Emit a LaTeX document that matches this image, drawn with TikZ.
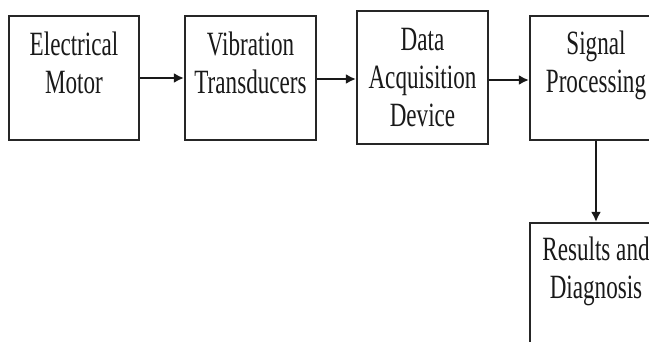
\documentclass[tikz,border=0pt]{standalone}
\usepackage{fontspec}
\setmainfont{Liberation Serif}[FakeStretch=0.68]
\usetikzlibrary{arrows.meta}
\tikzset{
  box/.style={draw=black!85, line width=2.2pt, rectangle, inner sep=0pt},
  lbl/.style={align=center, inner sep=0pt, anchor=base, font=\fontsize{34}{38}\selectfont, text=black!90},
  conn/.style={line width=2pt, draw=black!90, -{Latex[length=10pt,width=10pt]}}
}
\begin{document}
\begin{tikzpicture}[x=1pt,y=-1pt]
\clip (0,0) rectangle (649,341);
\fill[white] (0,0) rectangle (649,341);
\node[box, minimum width=130, minimum height=124] (b1) at (74,78) {};
\node[box, minimum width=131, minimum height=124] (b2) at (250.5,78) {};
\node[box, minimum width=131, minimum height=133] (b3) at (422.5,77.5) {};
\node[box, minimum width=132, minimum height=124] (b4) at (596,78) {};
\node[box, minimum width=132, minimum height=140] (b5) at (596,293) {};
\node[lbl] (t1) at (74,93) {Electrical\\Motor};
\node[lbl] (t2) at (250.5,93) {Vibration\\Transducers};
\node[lbl] (t3) at (422.5,126) {Data\\Acquisition\\Device};
\node[lbl] (t4) at (596,92) {Signal\\Processing};
\node[lbl] (t5) at (596,298) {Results and\\Diagnosis};
\draw[conn] (b1.east |- 0,78) -- (b2.west |- 0,78);
\draw[conn] (b2.east |- 0,79) -- (b3.west |- 0,79);
\draw[conn] (b3.east |- 0,80) -- (b4.west |- 0,80);
\draw[conn] (b4.south) -- (b5.north);
\end{tikzpicture}
\end{document}
